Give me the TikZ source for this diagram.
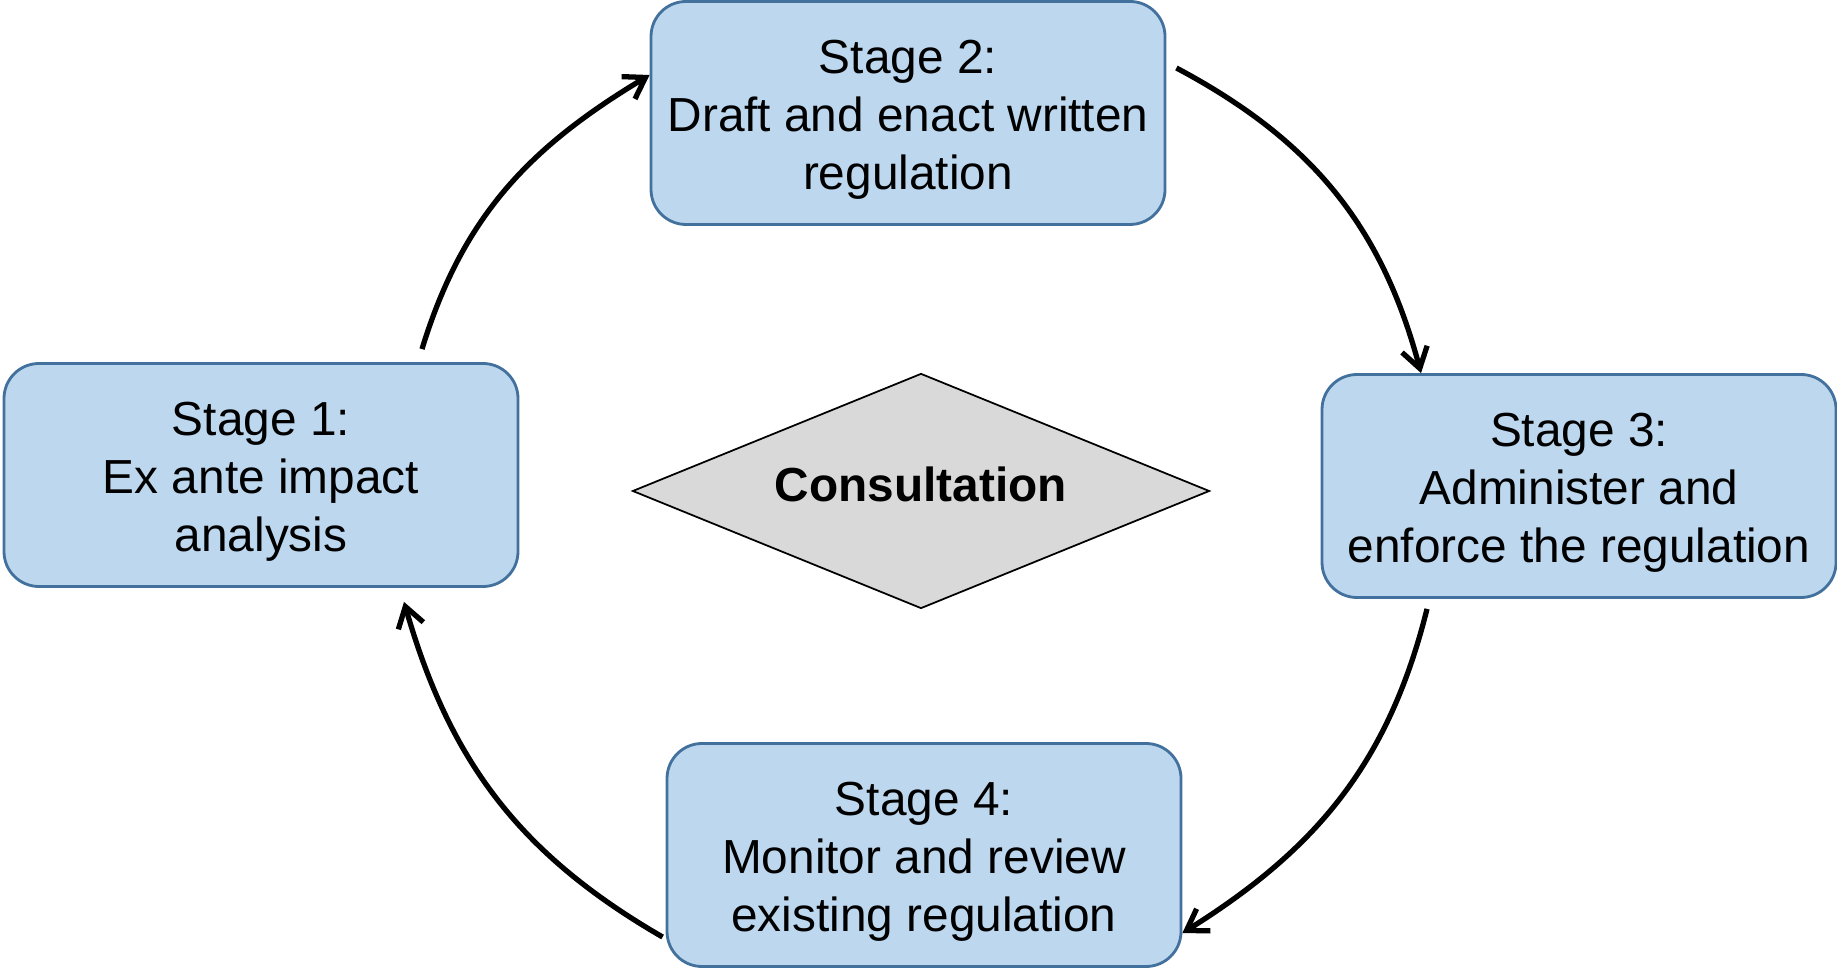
\documentclass[tikz,border=0pt]{standalone}
\usepackage{fontspec}
\setmainfont{Liberation Sans}
\usepackage{tikz}
\usetikzlibrary{arrows.meta}
\usetikzlibrary{shapes.geometric}

\definecolor{stagefill}{HTML}{BDD7EE}
\definecolor{stageline}{HTML}{41719C}
\definecolor{consultfill}{HTML}{D9D9D9}

\newcommand{\stagelines}[1]{\raisebox{0pt}[\dimexpr\height+4pt\relax][\depth]{\begin{tabular}{@{}c@{}}#1\end{tabular}}}

\begin{document}
\begin{tikzpicture}[
	stagebox/.style={draw=stageline, line width=0.8pt, fill=stagefill, rounded corners=0.35cm,
		minimum width=5.14cm, minimum height=2.23cm, inner sep=0pt,
		font=\fontsize{13.6}{16.4}\selectfont},
	cyclearrow/.style={line width=1.5pt, -{Straight Barb[length=2mm,width=2.6mm]}}
	]
	\useasboundingbox (0,0) rectangle (18.37,9.70);

	%Stage boxes
	\node [stagebox] (s1) at (2.61,4.95) {\stagelines{Stage 1:\\Ex ante impact\\analysis}};
	\node [stagebox] (s2) at (9.08,8.57) {\stagelines{Stage 2:\\Draft and enact written\\regulation}};
	\node [stagebox] (s3) at (15.79,4.84) {\stagelines{Stage 3:\\Administer and\\enforce the regulation}};
	\node [stagebox] (s4) at (9.24,1.15) {\stagelines{Stage 4:\\Monitor and review\\existing regulation}};

	%Consultation in the middle
	\node [diamond, draw=black, line width=0.5pt, fill=consultfill, aspect=2.455,
		minimum width=5.77cm, minimum height=2.35cm, inner sep=0pt, text depth=4pt,
		font=\fontsize{13.6}{16.4}\selectfont\bfseries] (cons) at (9.21,4.79) {Consultation};

	%Arrows round the cycle
	\draw [cyclearrow] ([xshift=1.61cm,yshift=0.13cm]s1.north) to [out=73,in=211] ([yshift=0.38cm]s2.west);
	\draw [cyclearrow] ([xshift=0.1cm,yshift=0.45cm]s2.east) to [out=-28,in=105] ([xshift=-1.58cm]s3.north);
	\draw [cyclearrow] ([xshift=-1.52cm,yshift=-0.1cm]s3.south) to [out=-104,in=32] ([yshift=-0.78cm]s4.east);
	\draw [cyclearrow] ([xshift=-0.03cm,yshift=-0.82cm]s4.west) to [out=150,in=-74] ([xshift=1.43cm,yshift=-0.14cm]s1.south);
\end{tikzpicture}
\end{document}
